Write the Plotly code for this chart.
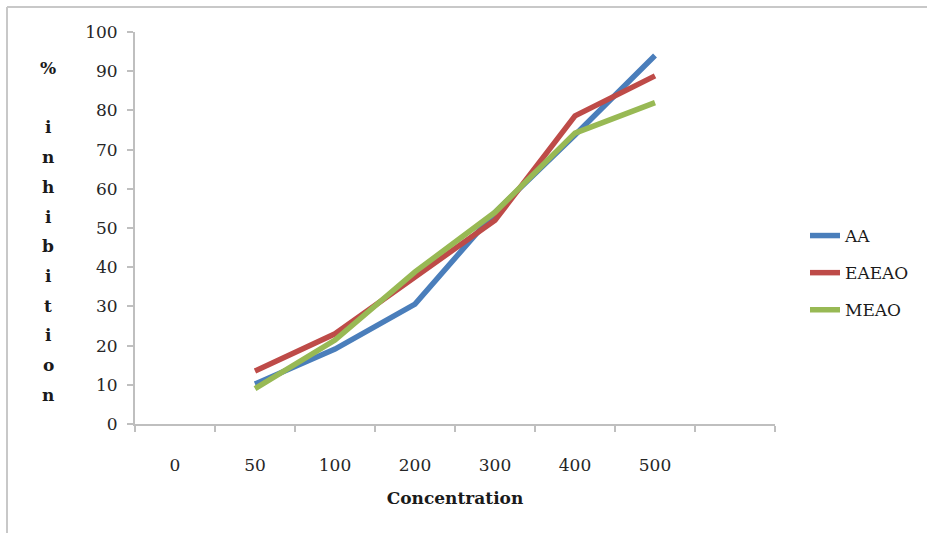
import plotly.graph_objects as go

categories = ["0", "50", "100", "200", "300", "400", "500"]
aa = [None, 10.2, 19.1, 30.6, 54.0, 73.7, 94.0]
eaeao = [None, 13.5, 23.0, 37.5, 52.0, 78.6, 88.8]
meao = [None, 9.0, 21.4, 38.8, 54.0, 74.2, 82.0]
series = [("AA", aa, "#4A7EBB"), ("EAEAO", eaeao, "#BE4B48"), ("MEAO", meao, "#98B954")]
y_ticks = list(range(0, 101, 10))
y_title_letters = ["%", "", "i", "n", "h", "i", "b", "i", "t", "i", "o", "n"]

FONT = "DejaVu Serif"
W, H = 927, 533
L, R, T, B = 135, 152, 32, 109
pw, ph = W - L - R, H - T - B

xs = list(range(len(categories)))
fig = go.Figure()
for name, vals, col in series:
    fig.add_trace(go.Scatter(x=xs, y=vals, mode="lines", name=name, legendgroup=name,
                             line=dict(color=col, width=5.5)))

axis_col = "#BFBFBF"
txt_col = "#262626"
fig.update_layout(
    width=W, height=H,
    margin=dict(l=L, r=R, t=T, b=B),
    plot_bgcolor="white", paper_bgcolor="white",
    font=dict(family=FONT, size=17, color=txt_col),
    showlegend=True,
    legend=dict(x=(805 - L) / pw, y=1 - (218 - T) / ph, xanchor="left", yanchor="top",
                font=dict(family=FONT, size=17, color="#1a1a1a"),
                tracegroupgap=12, itemwidth=30, bgcolor="rgba(0,0,0,0)"),
    xaxis=dict(
        range=[-0.5, 7.5], tickmode="array", tickvals=xs, ticktext=categories,
        ticks="", showgrid=False, zeroline=False, showline=True,
        linecolor=axis_col, linewidth=2, ticklabelstandoff=25,
        tickfont=dict(family=FONT, size=17, color=txt_col),
        minor=dict(tickmode="array", tickvals=[i - 0.5 for i in range(9)],
                   ticks="outside", ticklen=6, tickcolor=axis_col, tickwidth=2, showgrid=False),
        title=dict(text="<b>Concentration</b>", standoff=18,
                   font=dict(family=FONT, size=17, color="#1a1a1a")),
    ),
    yaxis=dict(
        range=[0, 100], tickmode="array", tickvals=y_ticks,
        ticks="outside", ticklen=6, tickcolor=axis_col, tickwidth=2,
        showgrid=False, zeroline=False, showline=True, linecolor=axis_col, linewidth=2,
        ticklabelstandoff=6,
        tickfont=dict(family=FONT, size=17, color=txt_col),
    ),
)

# stacked vertical y-axis title
for k, ch in enumerate(y_title_letters):
    if not ch:
        continue
    ypx = 68 + k * 29.7
    fig.add_annotation(text="<b>" + ch + "</b>", xref="paper", yref="paper",
                       x=(48 - L) / pw, y=1 - (ypx - T) / ph, showarrow=False,
                       xanchor="center", yanchor="middle",
                       font=dict(family=FONT, size=17, color="#1a1a1a"))

# outer border (left and top edges visible)
bx0, by0 = (7 - L) / pw, 1 + (T - 7) / ph
fig.add_shape(type="line", xref="paper", yref="paper", x0=bx0, y0=by0, x1=bx0, y1=-1,
              line=dict(color="#C8C8C8", width=2))
fig.add_shape(type="line", xref="paper", yref="paper", x0=bx0, y0=by0, x1=2, y1=by0,
              line=dict(color="#C8C8C8", width=2))

fig.write_html("out.html")
